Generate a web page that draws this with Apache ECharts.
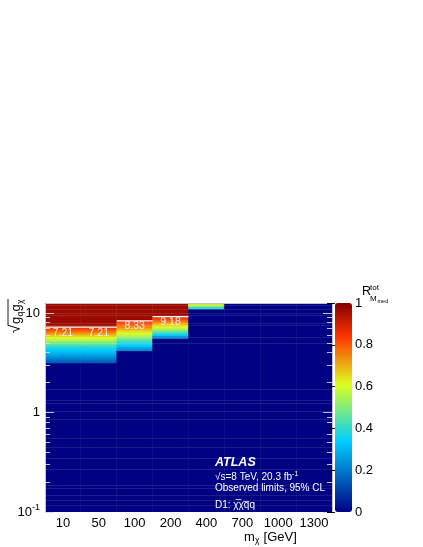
<!DOCTYPE html>
<html>
<head>
<meta charset="utf-8">
<script src="https://cdn.jsdelivr.net/npm/echarts@6/dist/echarts.min.js"></script>
<style>
  html, body { margin: 0; padding: 0; background: #fff; }
  #main { width: 423px; height: 547px; }
</style>
</head>
<body>
<div id="main"></div>
<script>
// dark matter mass points (x categories)
var masses = ['10', '50', '100', '200', '400', '700', '1000', '1300'];
// observed limit on sqrt(gq*gchi) per mass (null = above range / not shown)
var limits = [7.21, 7.21, 8.33, 9.18, null, null, null, null];
// coupling where the colour ramp ends at the top (limit, or plot top for 400)
var rampTop = [7.21, 7.21, 8.33, 9.18, 12.6, null, null, null];
// R values in 0.02-decade bins, read from top of ramp downwards
var rampValues = [
  [0.85, 0.81, 0.77, 0.72, 0.67, 0.62, 0.57, 0.52, 0.47, 0.42, 0.38, 0.35, 0.32, 0.29, 0.26, 0.23, 0.20, 0.16],
  [0.85, 0.81, 0.77, 0.72, 0.67, 0.62, 0.57, 0.52, 0.47, 0.42, 0.38, 0.35, 0.32, 0.29, 0.26, 0.23, 0.20, 0.16],
  [0.86, 0.82, 0.78, 0.74, 0.70, 0.65, 0.61, 0.57, 0.52, 0.47, 0.42, 0.38, 0.34, 0.29, 0.24],
  [0.86, 0.82, 0.77, 0.72, 0.66, 0.61, 0.55, 0.48, 0.41, 0.33, 0.22],
  [0.64, 0.56, 0.40],
  [], [], []
];
var aboveLimitR = 0.97;   // saturated region above the limit
var belowRampR = 0;       // excluded-free region
// faint horizontal streaks in the histogram (coupling values)
var streaks = [11.9, 10.9, 10.1, 9.46, 7.87, 7.52, 5.69, 4.96, 1.71, 1.33, 1.24, 1.03, 0.857,
               0.55, 0.45, 0.35, 0.27, 0.187, 0.174, 0.148, 0.132, 0.118];
var yMin = 0.1, yMax = 12.6;
var majorTicks = [0.1, 1, 10];
var minorTicks = [0.2, 0.3, 0.4, 0.5, 0.6, 0.7, 0.8, 0.9, 2, 3, 4, 5, 6, 7, 8, 9];
var binStep = 0.02;

// ROOT/ATLAS style palette
var stops = [0, 0.34, 0.61, 0.84, 1];
var pr = [0, 0, 0.87, 1, 0.51], pg = [0, 0.81, 1, 0.2, 0], pb = [0.51, 1, 0.12, 0, 0];
function pal(t) {
  var k = 0;
  while (k < stops.length - 2 && t > stops[k + 1]) k++;
  var f = (t - stops[k]) / (stops[k + 1] - stops[k]);
  var c = function (a) { return Math.round(255 * (a[k] + (a[k + 1] - a[k]) * f)); };
  return 'rgb(' + c(pr) + ',' + c(pg) + ',' + c(pb) + ')';
}
var colors = [];
for (var i = 0; i <= 50; i++) colors.push(pal(i / 50));

// build histogram cells [col, low, high, R]
var cells = [];
masses.forEach(function (m, i) {
  var top = rampTop[i];
  if (top == null) { cells.push([i, yMin, yMax, belowRampR]); return; }
  var vals = rampValues[i];
  var bottom = top / Math.pow(10, binStep * vals.length);
  cells.push([i, yMin, bottom, belowRampR]);
  vals.forEach(function (v, k) {
    cells.push([i, top / Math.pow(10, binStep * (k + 1)), top / Math.pow(10, binStep * k), v]);
  });
  if (top < yMax) cells.push([i, top, yMax, aboveLimitR]);
});
var limitData = [];
limits.forEach(function (l, i) { if (l != null) limitData.push([i, l]); });

var font = 'Liberation Sans, Arial, Helvetica, sans-serif';
var tickCol = 'rgba(215,215,230,0.9)';

function logAxis(pos, ticks, len, showLabel) {
  return {
    type: 'log', logBase: 10, min: yMin, max: yMax, position: pos, gridIndex: 0, z: 10,
    axisLine: { show: true, lineStyle: { color: '#c4c4c4', width: 1 } },
    axisTick: { show: true, inside: true, length: len, customValues: ticks, lineStyle: { color: tickCol, width: 1 } },
    axisLabel: {
      show: showLabel, customValues: ticks, margin: 5, color: '#000', fontFamily: font, fontSize: 13,
      formatter: function (v) {
        var e = Math.round(Math.log10(v));
        if (e < 0) return '{b|10}{s|-1}';
        return e === 0 ? '1' : '10';
      },
      rich: { b: { fontSize: 13, fontFamily: font, color: '#000' },
              s: { fontSize: 9, fontFamily: font, color: '#000', padding: [0, 0, 8, 0] } }
    },
    splitLine: { show: false }, minorTick: { show: false }
  };
}

var chart = echarts.init(document.getElementById('main'));
chart.setOption({
  animation: false,
  textStyle: { fontFamily: font },
  grid: [
    { left: 45, top: 303, width: 287, height: 209 },
    { left: 335, top: 303, width: 17, height: 209 }
  ],
  xAxis: [
    { type: 'category', data: masses, gridIndex: 0, z: 10,
      axisLine: { show: false }, axisTick: { show: false },
      axisLabel: { color: '#000', fontSize: 13, fontFamily: font, margin: 5, interval: 0 } },
    { type: 'category', data: masses, gridIndex: 0, position: 'top', z: 10,
      axisLine: { show: true, lineStyle: { color: '#c4c4c4' } }, axisTick: { show: false }, axisLabel: { show: false } },
    { type: 'value', gridIndex: 1, show: false, min: 0, max: 1 }
  ],
  yAxis: [
    logAxis('left', majorTicks, 9, true),
    logAxis('left', minorTicks, 5, false),
    logAxis('right', majorTicks, 9, false),
    logAxis('right', minorTicks, 5, false),
    { type: 'value', gridIndex: 1, min: 0, max: 1, interval: 0.2, position: 'right', z: 10,
      axisLine: { show: false },
      axisTick: { show: true, inside: true, length: 8, lineStyle: { color: '#000' } },
      axisLabel: { color: '#000', fontSize: 13, fontFamily: font, margin: 3,
        formatter: function (v) { return (v === 0 || v === 1) ? String(v) : v.toFixed(1); } },
      splitLine: { show: false } }
  ],
  visualMap: {
    type: 'continuous', min: 0, max: 1, dimension: 3, seriesIndex: 0,
    orient: 'vertical', left: 335, top: 303, itemWidth: 17, itemHeight: 209, padding: 0,
    calculable: false, hoverLink: false, text: null, showLabel: false,
    inRange: { color: colors }
  },
  series: [
    { type: 'custom', xAxisIndex: 0, yAxisIndex: 0, clip: true, z: 2,
      encode: { x: 0, y: [1, 2] },
      data: cells,
      renderItem: function (params, api) {
        var cs = params.coordSys;
        var bw = cs.width / masses.length;
        var lo = api.coord([api.value(0), api.value(1)]);
        var hi = api.coord([api.value(0), api.value(2)]);
        var c = api.visual('color');
        return { type: 'rect',
          shape: { x: lo[0] - bw / 2, y: hi[1], width: bw, height: lo[1] - hi[1] },
          style: { fill: c, stroke: c, lineWidth: 0.6 } };
      } },
    { type: 'custom', xAxisIndex: 0, yAxisIndex: 0, clip: true, z: 3, silent: true,
      encode: { x: 0, y: 1 },
      data: streaks.map(function (s) { return [0, s]; }),
      renderItem: function (params, api) {
        var cs = params.coordSys;
        var y = Math.round(api.coord([0, api.value(1)])[1]) + 0.5;
        return { type: 'line', shape: { x1: cs.x, y1: y, x2: cs.x + cs.width, y2: y },
          style: { stroke: 'rgba(255,255,255,0.11)', lineWidth: 1 } };
      } },
    { type: 'custom', xAxisIndex: 0, yAxisIndex: 0, z: 4, silent: true,
      encode: { x: 0, y: 1 },
      data: limitData,
      renderItem: function (params, api) {
        var cs = params.coordSys;
        var bw = cs.width / masses.length;
        var p = api.coord([api.value(0), api.value(1)]);
        return { type: 'group', children: [
          { type: 'line', shape: { x1: p[0] - bw / 2, y1: p[1], x2: p[0] + bw / 2, y2: p[1] },
            style: { stroke: '#fff', lineWidth: 1.3 } },
          { type: 'text', x: p[0], y: p[1] + 5.5,
            style: { text: api.value(1).toFixed(2), fill: '#ffecec', fontSize: 10.5, fontFamily: font,
              align: 'center', verticalAlign: 'middle' } }
        ] };
      } },
    { type: 'line', xAxisIndex: 2, yAxisIndex: 4, data: [] }
  ],
  graphic: [
    // y axis title: sqrt(g_q g_chi), rotated
    { type: 'group', x: 16, y: 333, rotation: Math.PI / 2, children: [
      { type: 'text', x: 0, y: 0, style: { text: '\u221a', fontSize: 15, fontFamily: font, fill: '#000', verticalAlign: 'middle' } },
      { type: 'line', shape: { x1: 7.5, y1: -8, x2: 34, y2: -8 }, style: { stroke: '#000', lineWidth: 0.9 } },
      { type: 'text', x: 9, y: 0, style: { text: 'g', fontSize: 13, fontFamily: font, fill: '#000', verticalAlign: 'middle' } },
      { type: 'text', x: 16.5, y: 5, style: { text: 'q', fontSize: 8.5, fontFamily: font, fill: '#000', verticalAlign: 'middle' } },
      { type: 'text', x: 21.5, y: 0, style: { text: 'g', fontSize: 13, fontFamily: font, fill: '#000', verticalAlign: 'middle' } },
      { type: 'text', x: 29, y: 5, style: { text: '\u03c7', fontSize: 8.5, fontFamily: font, fill: '#000', verticalAlign: 'middle' } }
    ] },
    // x axis title
    { type: 'group', x: 244, y: 537, children: [
      { type: 'text', x: 0, y: 0, style: { text: 'm', fontSize: 13, fontFamily: font, fill: '#000', verticalAlign: 'middle' } },
      { type: 'text', x: 11, y: 4, style: { text: '\u03c7', fontSize: 8.5, fontFamily: font, fill: '#000', verticalAlign: 'middle' } },
      { type: 'text', x: 16, y: 0, style: { text: ' [GeV]', fontSize: 13, fontFamily: font, fill: '#000', verticalAlign: 'middle' } }
    ] },
    // colour bar title R^tot_{M_med}
    { type: 'text', x: 362, y: 291.7, style: { text: 'R', fontSize: 12.5, fontFamily: font, fill: '#000', verticalAlign: 'middle' } },
    { type: 'text', x: 370, y: 287.5, style: { text: 'tot', fontSize: 8, fontFamily: font, fill: '#000', verticalAlign: 'middle' } },
    { type: 'text', x: 370, y: 299, style: { text: 'M', fontSize: 8, fontFamily: font, fill: '#000', verticalAlign: 'middle' } },
    { type: 'text', x: 377.5, y: 301, style: { text: 'med', fontSize: 5.5, fontFamily: font, fill: '#000', verticalAlign: 'middle' } },
    // ATLAS label block
    { type: 'text', x: 215, y: 463, z: 20, style: { text: 'ATLAS', fontSize: 12.5, fontWeight: 'bold', fontStyle: 'italic', fontFamily: font, fill: '#fff', verticalAlign: 'middle' } },
    { type: 'text', x: 215, y: 477, z: 20, style: { text: '\u221as=8 TeV, 20.3 fb{s|-1}', fontSize: 10, fontFamily: font, fill: '#fff', verticalAlign: 'middle',
      rich: { s: { fontSize: 7, fill: '#fff', fontFamily: font, padding: [0, 0, 6, 0] } } } },
    { type: 'text', x: 215, y: 488.5, z: 20, style: { text: 'Observed limits, 95% CL', fontSize: 10, fontFamily: font, fill: '#fff', verticalAlign: 'middle' } },
    { type: 'text', x: 215, y: 505, z: 20, style: { text: 'D1: \u03c7\u0305\u03c7q\u0305q', fontSize: 10, fontFamily: font, fill: '#fff', verticalAlign: 'middle' } }
  ]
});
</script>
</body>
</html>
